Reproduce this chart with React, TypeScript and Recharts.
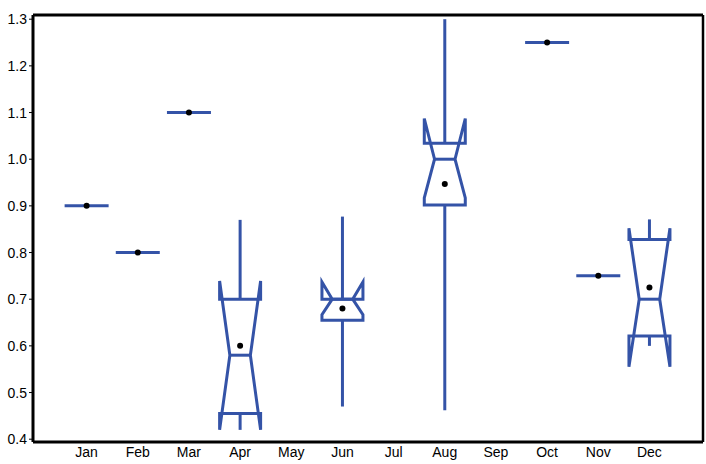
// Monthly notched box plot — Recharts ComposedChart with a custom Bar shape.
import { ComposedChart, Bar, XAxis, YAxis } from 'recharts';

const MONTHS = ['Jan', 'Feb', 'Mar', 'Apr', 'May', 'Jun', 'Jul', 'Aug', 'Sep', 'Oct', 'Nov', 'Dec'];
// Box statistics per month (null = no data that month).
const WHISKER_LO = [0.9, 0.8, 1.1, 0.42, null, 0.47, null, 0.462, null, 1.25, 0.75, 0.6];
const Q1 = [0.9, 0.8, 1.1, 0.455, null, 0.655, null, 0.902, null, 1.25, 0.75, 0.621];
const NOTCH_LO = [0.9, 0.8, 1.1, 0.42, null, 0.667, null, 0.917, null, 1.25, 0.75, 0.555];
const MEDIAN = [0.9, 0.8, 1.1, 0.58, null, 0.7, null, 1.0, null, 1.25, 0.75, 0.7];
const NOTCH_HI = [0.9, 0.8, 1.1, 0.739, null, 0.737, null, 1.087, null, 1.25, 0.75, 0.852];
const Q3 = [0.9, 0.8, 1.1, 0.7, null, 0.7, null, 1.034, null, 1.25, 0.75, 0.828];
const WHISKER_HI = [0.9, 0.8, 1.1, 0.87, null, 0.877, null, 1.3, null, 1.25, 0.75, 0.871];
const MEAN = [0.9, 0.8, 1.1, 0.6, null, 0.68, null, 0.947, null, 1.25, 0.75, 0.725];

const Y_TICKS = [0.4, 0.5, 0.6, 0.7, 0.8, 0.9, 1.0, 1.1, 1.2, 1.3];
const Y_MIN = 0.394;
const Y_MAX = 1.309;

const BOX = '#3453a7';
const FONT = { fontFamily: '"Liberation Sans", Arial, sans-serif', fontSize: 14, fill: '#000' };

const data = MONTHS.map((month, i) => ({
  month,
  lo: WHISKER_LO[i], q1: Q1[i], nlo: NOTCH_LO[i], med: MEDIAN[i],
  nhi: NOTCH_HI[i], q3: Q3[i], hi: WHISKER_HI[i], mean: MEAN[i],
}));

// Bar spans [Y_MIN, hi] so its pixel height gives the y scale for the rest of the box.
function BoxShape(props: any) {
  const { x, y, width, height, payload } = props;
  if (payload == null || payload.hi == null) return null;
  const k = height / (payload.hi - Y_MIN);
  const py = (v: number) => y + (payload.hi - v) * k;
  const cx = x + width / 2;
  const L = x, R = x + width, nL = cx - width / 4, nR = cx + width / 4;

  if (payload.q1 === payload.q3) {
    return (
      <g>
        <line x1={L} x2={R} y1={py(payload.med)} y2={py(payload.med)} stroke={BOX} strokeWidth={3} strokeLinecap="square" />
        <circle cx={cx} cy={py(payload.mean)} r={3} fill="#000" />
      </g>
    );
  }

  const pts: [number, number][] = [
    [L, payload.q1], [R, payload.q1], [R, payload.nlo], [nR, payload.med], [R, payload.nhi], [R, payload.q3],
    [L, payload.q3], [L, payload.nhi], [nL, payload.med], [L, payload.nlo],
  ];
  const d = pts.map(([px, v], i) => `${i ? 'L' : 'M'}${px},${py(v)}`).join(' ') + ' Z';

  return (
    <g>
      <line x1={cx} x2={cx} y1={py(payload.q3)} y2={py(payload.hi)} stroke={BOX} strokeWidth={3} />
      <line x1={cx} x2={cx} y1={py(payload.q1)} y2={py(payload.lo)} stroke={BOX} strokeWidth={3} />
      <path d={d} fill="none" stroke={BOX} strokeWidth={3} />
      <line x1={nL} x2={nR} y1={py(payload.med)} y2={py(payload.med)} stroke={BOX} strokeWidth={3} />
      <circle cx={cx} cy={py(payload.mean)} r={3} fill="#000" />
    </g>
  );
}

export default function App() {
  return (
    <div style={{ position: 'absolute', left: 0, top: 0, width: 706, height: 464, background: '#fff' }}>
      <ComposedChart width={706} height={464} data={data} margin={{ top: 14, right: 2, bottom: 0, left: 0 }}>
        <XAxis dataKey="month" interval={0} height={22} padding={{ left: 28, right: 28 }}
          tick={FONT} tickLine={false} tickSize={5} tickMargin={0}
          axisLine={{ stroke: '#000', strokeWidth: 3 }} />
        <XAxis xAxisId="top" orientation="top" dataKey="month" height={1} padding={{ left: 28, right: 28 }}
          tick={false} tickLine={false} axisLine={{ stroke: '#000', strokeWidth: 3 }} />
        <YAxis type="number" domain={[Y_MIN, Y_MAX]} ticks={Y_TICKS} width={33} interval={0}
          tickFormatter={(v: number) => v.toFixed(1)} tick={FONT}
          tickSize={4} tickMargin={2} tickLine={{ stroke: '#000' }}
          axisLine={{ stroke: '#000', strokeWidth: 3 }} />
        <YAxis yAxisId="right" orientation="right" type="number" domain={[Y_MIN, Y_MAX]} width={1}
          tick={false} tickLine={false} axisLine={{ stroke: '#000', strokeWidth: 2.5 }} />
        <Bar dataKey={(d: any) => (d.hi == null ? null : [Y_MIN, d.hi])} shape={(p: any) => <BoxShape {...p} />}
          isAnimationActive={false} />
      </ComposedChart>
    </div>
  );
}
